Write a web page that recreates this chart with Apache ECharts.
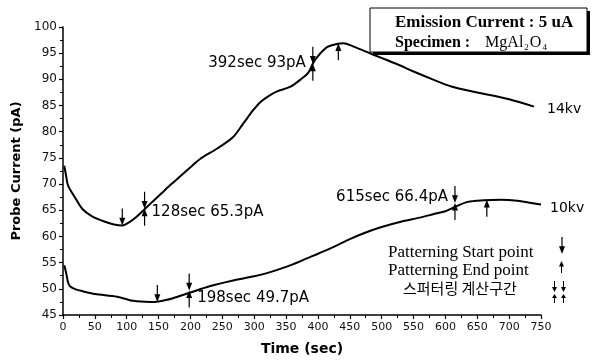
<!DOCTYPE html>
<html>
<head>
<meta charset="utf-8">
<script src="https://cdn.jsdelivr.net/npm/echarts@6/dist/echarts.min.js"></script>
<style>
  html, body { margin: 0; padding: 0; background: #fff; }
  #chart { width: 594px; height: 361px; }
</style>
</head>
<body>
<div id="chart"></div>
<script>
// 14 kV probe current (time sec, current pA)
const time14 = [2, 5, 8, 20, 30, 45, 66, 80, 93, 105, 115, 128, 140, 155, 170, 184, 200, 215, 242, 267, 283, 299, 310, 325, 336, 357, 373, 385, 392, 396, 404, 415, 431, 440, 455, 487, 510, 530, 550, 580, 608, 650, 700, 739];
const curr14 = [73.5, 71.5, 69.7, 67.2, 65.3, 63.9, 62.8, 62.3, 62.1, 62.8, 63.7, 65.2, 66.6, 68.3, 70, 71.5, 73.2, 74.8, 76.8, 79, 81.6, 84.2, 85.7, 87, 87.7, 88.6, 90, 91.3, 93, 93.8, 95, 96.2, 96.8, 96.9, 96.3, 94.7, 93.6, 92.6, 91.5, 90, 88.7, 87.5, 86.2, 84.8];

// 10 kV probe current
const time10 = [2, 5, 8, 11, 20, 32, 50, 85, 110, 137, 150, 163, 180, 200, 230, 267, 300, 320, 350, 373, 400, 425, 450, 478, 500, 530, 560, 582, 600, 614, 635, 660, 687, 713, 740, 750];
const curr10 = [54.5, 53, 51.2, 50.5, 49.9, 49.5, 49, 48.5, 47.7, 47.5, 47.6, 47.9, 48.5, 49.3, 50.5, 51.6, 52.4, 53, 54.2, 55.3, 56.7, 58, 59.5, 60.9, 61.8, 62.8, 63.6, 64.3, 64.8, 65.6, 66.6, 66.9, 67, 66.8, 66.3, 66.1];

// patterning start (down arrows) and end (up arrows)
const startPoints = [[93, 62.1], [128, 65.3], [392, 93], [148, 47.5], [198, 49.7], [615, 66.4]];
const endPoints = [[128, 65.3], [392, 93], [432, 96.9], [198, 49.7], [615, 66.4], [665, 67]];

// annotation labels
const noteLabels = ['392sec 93pA', '128sec 65.3pA', '198sec 49.7pA', '615sec 66.4pA'];
const notePoints = [[392, 93], [128, 65.3], [198, 49.7], [615, 66.4]];
const notePos = ['left', 'right', 'right', 'left'];
const noteOffset = [[-1, -1], [1, 3], [2, 8], [-1, -6]];

const xTicks = { min: 0, max: 750, interval: 50 };
const yTicks = { min: 45, max: 100, interval: 5 };

const ARROW_DOWN = 'path://M4,0 H6 V11 H10 L5,20 L0,11 H4 Z';
const ARROW_UP = 'path://M5,0 L10,9 H6 V20 H4 V9 H0 Z';

const zip = (a, b) => a.map((v, i) => [v, b[i]]);
const sans = 'DejaVu Sans';
const serif = 'Liberation Serif';

// legend arrow glyphs as polygons
function arrowDown(x, y, w, h) {
  return {
    type: 'polygon',
    shape: { points: [[x + w * 0.4, y], [x + w * 0.6, y], [x + w * 0.6, y + h * 0.55], [x + w, y + h * 0.55], [x + w / 2, y + h], [x, y + h * 0.55], [x + w * 0.4, y + h * 0.55]] },
    style: { fill: '#000' }
  };
}
function arrowUp(x, y, w, h) {
  return {
    type: 'polygon',
    shape: { points: [[x + w / 2, y], [x + w, y + h * 0.45], [x + w * 0.6, y + h * 0.45], [x + w * 0.6, y + h], [x + w * 0.4, y + h], [x + w * 0.4, y + h * 0.45], [x, y + h * 0.45]] },
    style: { fill: '#000' }
  };
}
function label(x, y, text, family, size, weight) {
  return {
    type: 'text', x: x, y: y,
    style: { text: text, fontFamily: family, fontSize: size, fontWeight: weight || 'normal', fill: '#000' }
  };
}

const chart = echarts.init(document.getElementById('chart'), null, { renderer: 'canvas' });

const lineSeries = (name, data, gap, dy) => ({
  type: 'line',
  name: name,
  data: data,
  showSymbol: false,
  smooth: 0.3,
  lineStyle: { color: '#000', width: 2 },
  endLabel: {
    show: true,
    formatter: name,
    color: '#000',
    fontFamily: sans,
    fontSize: 14,
    distance: gap,
    offset: [0, dy]
  },
  z: 3
});

chart.setOption({
  backgroundColor: '#fff',
  animation: false,
  grid: { left: 63, right: 53, top: 27, bottom: 44 },
  xAxis: {
    type: 'value',
    min: xTicks.min,
    max: xTicks.max,
    interval: xTicks.interval,
    name: 'Time (sec)',
    nameLocation: 'middle',
    nameGap: 27,
    nameTextStyle: { fontFamily: sans, fontWeight: 'bold', fontSize: 14, color: '#000' },
    axisLine: { lineStyle: { color: '#000', width: 1.5 } },
    axisTick: { length: 4, lineStyle: { color: '#000', width: 1.2 } },
    minorTick: { show: true, splitNumber: 2, length: 3, lineStyle: { color: '#000' } },
    axisLabel: { fontFamily: sans, fontSize: 11, color: '#111', margin: 7 },
    splitLine: { show: false }
  },
  yAxis: {
    type: 'value',
    min: yTicks.min,
    max: yTicks.max,
    interval: yTicks.interval,
    name: 'Probe Current (pA)',
    nameLocation: 'middle',
    nameGap: 40,
    nameTextStyle: { fontFamily: sans, fontWeight: 'bold', fontSize: 13, color: '#000' },
    axisLine: { show: true, lineStyle: { color: '#000', width: 1.5 } },
    axisTick: { show: true, length: 4, lineStyle: { color: '#000', width: 1.2 } },
    minorTick: { show: true, splitNumber: 2, length: 3, lineStyle: { color: '#000' } },
    axisLabel: { fontFamily: sans, fontSize: 12, color: '#111', margin: 6 },
    splitLine: { show: false }
  },
  series: [
    lineSeries('14kv', zip(time14, curr14), 13, 3),
    lineSeries('10kv', zip(time10, curr10), 9, 4),
    {
      type: 'scatter',
      data: startPoints,
      symbol: ARROW_DOWN,
      symbolSize: [6, 17],
      symbolOffset: [0, '-50%'],
      itemStyle: { color: '#000', opacity: 1 },
      z: 4
    },
    {
      type: 'scatter',
      data: endPoints,
      symbol: ARROW_UP,
      symbolSize: [6, 17],
      symbolOffset: [0, '50%'],
      itemStyle: { color: '#000', opacity: 1 },
      z: 4
    },
    {
      type: 'scatter',
      symbolSize: 0,
      itemStyle: { opacity: 1 },
      data: notePoints.map((p, i) => ({
        value: p,
        label: {
          show: true,
          formatter: noteLabels[i],
          position: notePos[i],
          offset: noteOffset[i],
          distance: 6,
          fontFamily: sans,
          fontSize: 15,
          color: '#000',
          opacity: 1
        }
      })),
      z: 5
    }
  ],
  graphic: [
    // info box with shadow
    { type: 'rect', shape: { x: 373, y: 11, width: 217, height: 44 }, style: { fill: '#000' } },
    { type: 'rect', shape: { x: 370, y: 8, width: 217, height: 44 }, style: { fill: '#fff', stroke: '#000', lineWidth: 1 } },
    label(395, 14, 'Emission Current : 5 uA', serif, 17, 'bold'),
    {
      type: 'text', x: 395, y: 34,
      style: {
        text: '{b|Specimen :}{g|}{n|MgAl}{s|2}{n|O}{s|4}',
        fill: '#000',
        rich: {
          b: { fontFamily: serif, fontSize: 16, fontWeight: 'bold', lineHeight: 18 },
          g: { width: 15 },
          n: { fontFamily: serif, fontSize: 16, lineHeight: 18 },
          s: { fontFamily: serif, fontSize: 9, lineHeight: 18, padding: [10, 1, 0, 1] }
        }
      }
    },
    // legend of arrows, bottom right
    label(388, 244, 'Patterning Start point', serif, 17),
    label(388, 262, 'Patterning End point', serif, 17),
    label(403, 281, '스퍼터링 계산구간', 'Noto Sans CJK KR', 15),
    arrowDown(559, 237, 6, 17),
    arrowUp(559, 261, 5, 12),
    arrowDown(552, 281, 5, 11),
    arrowDown(561, 281, 5, 11),
    arrowUp(552, 294, 5, 9),
    arrowUp(561, 294, 5, 9)
  ]
});
</script>
</body>
</html>
